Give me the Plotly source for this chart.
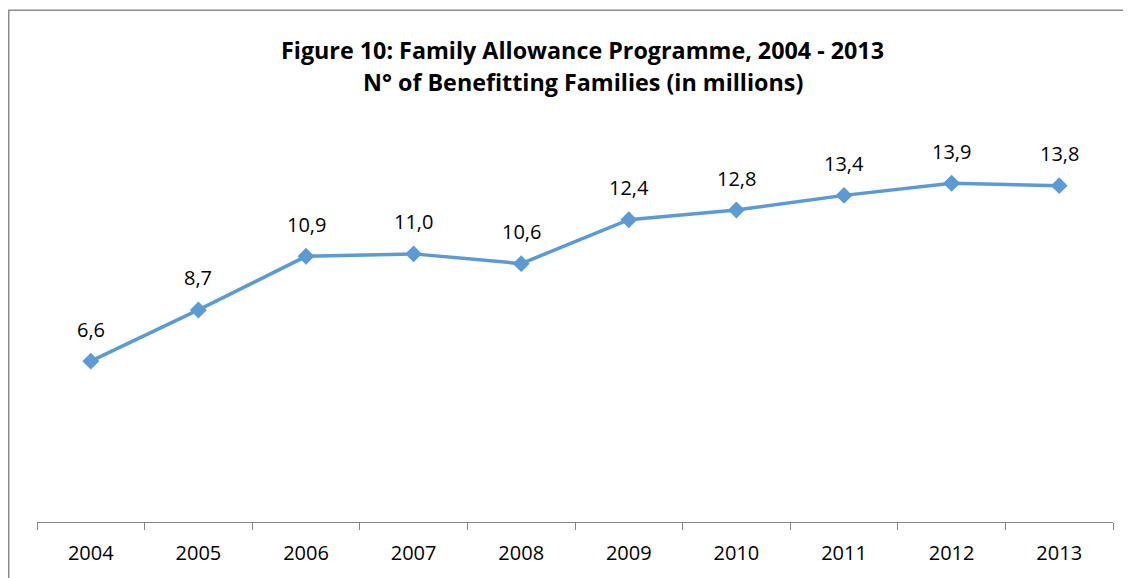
import plotly.graph_objects as go

years = ["2004", "2005", "2006", "2007", "2008", "2009", "2010", "2011", "2012", "2013"]
families = [6.6, 8.7, 10.9, 11.0, 10.6, 12.4, 12.8, 13.4, 13.9, 13.8]
title_lines = ["Figure 10: Family Allowance Programme, 2004 - 2013",
               "N° of Benefitting Families (in millions)"]

# page body has an 8px margin; figure coordinates are screen minus 8
W, H = 1123, 570
L, R, T, B = 29, 18, 124, 54
pw, ph = W - L - R, H - T - B

fig = go.Figure()
fig.add_trace(go.Scatter(
    x=years, y=families, mode="lines+markers",
    line=dict(color="#5B9BD5", width=3.5),
    marker=dict(symbol="diamond", size=13, color="#5B9BD5"),
    hoverinfo="skip", showlegend=False,
))

for i, v in enumerate(families):
    fig.add_annotation(x=i, y=v, text=f"{v:.1f}".replace(".", ","),
                       showarrow=False, yshift=32, yanchor="middle",
                       font=dict(family="Open Sans", size=20, color="#000000"))

tx = (574.5 - L) / pw
fig.add_annotation(xref="paper", yref="paper", x=tx, y=(H - B - 42) / ph,
                   yanchor="middle",
                   text="<b>" + title_lines[0] + "</b>", showarrow=False,
                   font=dict(family="Open Sans", size=23.3, color="#000000"))
fig.add_annotation(xref="paper", yref="paper", x=tx, y=(H - B - 74) / ph,
                   yanchor="middle",
                   text="<b>" + title_lines[1] + "</b>", showarrow=False,
                   font=dict(family="Open Sans", size=23.3, color="#000000"))

# chart border (right and bottom edges lie outside the picture)
fig.add_shape(type="rect", xref="paper", yref="paper",
              x0=(0.75 - L) / pw, x1=(1140 - L) / pw,
              y0=(H - B - 600) / ph, y1=(H - B - 1.5) / ph,
              line=dict(color="#8C8C8C", width=1.5))

fig.update_layout(
    width=W, height=H,
    margin=dict(l=L, r=R, t=T, b=B),
    paper_bgcolor="white", plot_bgcolor="white",
    font=dict(family="Open Sans", size=20, color="#000000"),
)
fig.update_xaxes(type="category", tickson="boundaries", ticks="outside",
                 ticklen=7, tickcolor="#868686", showline=True,
                 linecolor="#868686", linewidth=1, showgrid=False,
                 ticklabelstandoff=13,
                 tickfont=dict(family="Open Sans", size=20, color="#000000"),
                 range=[-0.5, 9.5])
fig.update_yaxes(range=[0, 16], visible=False, showgrid=False)

fig.write_html("out.html")
